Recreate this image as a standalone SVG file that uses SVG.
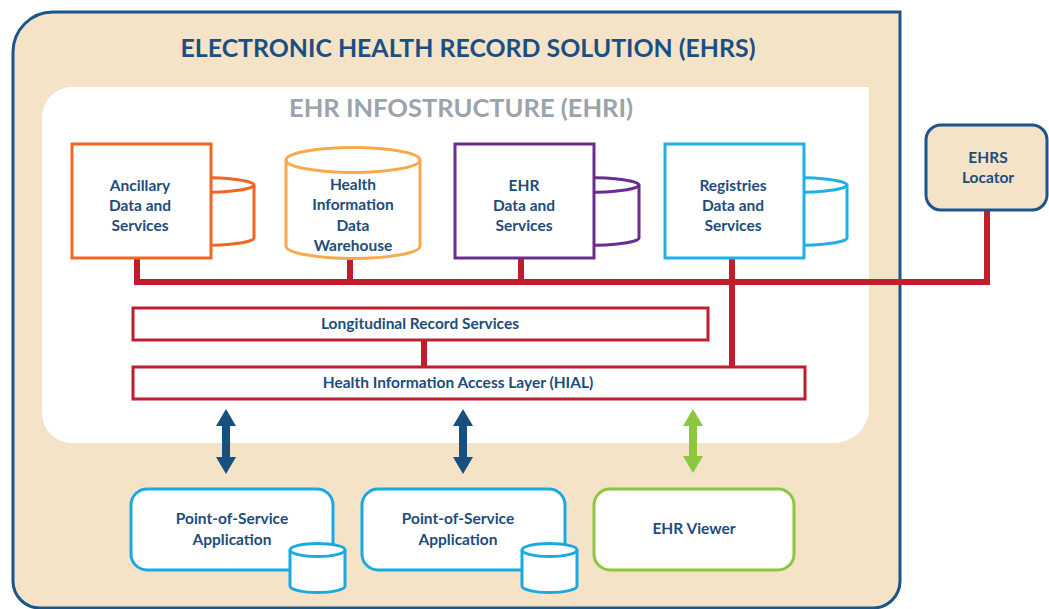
<svg xmlns="http://www.w3.org/2000/svg" width="1049" height="609" viewBox="0 0 1049 609">
<defs>
<style>
.t{font-family:Lato,"Open Sans","Liberation Sans",sans-serif;font-weight:bold;fill:#1d4d7d;text-anchor:middle;font-size:15.5px}
.bus{stroke:#be1e2d;stroke-width:6;fill:none}
.lay{fill:#fff;stroke:#be1e2d;stroke-width:3}
.cyl{fill:#fff;stroke-width:3}
</style>
</defs>
<rect width="1049" height="609" fill="#fff"/>
<g id="ehrs">
<path d="M53,12 H900 V581 A27,27 0 0 1 873,608 H40 A27,27 0 0 1 13,581 V52 A40,40 0 0 1 53,12 Z" fill="#f5e3c8" stroke="#1a568c" stroke-width="3"/>
<text x="468" y="57" class="t" style="font-size:25px;fill:#1b4f82" textLength="575" lengthAdjust="spacingAndGlyphs">ELECTRONIC HEALTH RECORD SOLUTION (EHRS)</text>
</g>
<g id="ehri">
<path d="M72,87 H869 V408 A35,35 0 0 1 834,443 H72 A30,30 0 0 1 42,413 V117 A30,30 0 0 1 72,87 Z" fill="#fff"/>
<text x="461" y="117" class="t" style="font-size:24px;fill:#9ba3ac" textLength="344" lengthAdjust="spacingAndGlyphs">EHR INFOSTRUCTURE (EHRI)</text>
</g>
<g id="connectors">
<path class="bus" d="M137,258 V282 H987 V210"/>
<path class="bus" d="M350,258 V282"/>
<path class="bus" d="M521,258 V282"/>
<path class="bus" d="M732,258 V367"/>
<path class="bus" d="M424,340 V367"/>
<polygon fill="#174f7f" points="226,409 236,426 230,426 230,457 236,457 226,474 216,457 222,457 222,426 216,426"/>
<polygon fill="#174f7f" points="463,409 473,426 467,426 467,457 473,457 463,474 453,457 459,457 459,426 453,426"/>
<polygon fill="#8dc63f" points="693,409 703,426 697,426 697,456 703,456 693,473 683,456 689,456 689,426 683,426"/>
</g>
<g id="ancillary">
<path class="cyl" stroke="#f26522" d="M146,185 A54,7.5 0 0 1 254,185 V238 A54,7.5 0 0 1 146,238 Z"/>
<path fill="none" stroke="#f26522" stroke-width="3" d="M146,185 A54,7.5 0 0 0 254,185"/>
<rect x="72" y="144" width="139" height="114" fill="#fff" stroke="#f26522" stroke-width="3"/>
<text class="t" x="140"><tspan x="140" y="191">Ancillary</tspan><tspan x="140" y="211">Data and</tspan><tspan x="140" y="231">Services</tspan></text>
</g>
<g id="warehouse">
<path class="cyl" stroke="#f9a94b" d="M286,160 A67,12.5 0 0 1 420,160 V246 A67,12.5 0 0 1 286,246 Z"/>
<path fill="none" stroke="#f9a94b" stroke-width="3" d="M286,160 A67,12.5 0 0 0 420,160"/>
<text class="t" x="353"><tspan x="353" y="190">Health</tspan><tspan x="353" y="210">Information</tspan><tspan x="353" y="231">Data</tspan><tspan x="353" y="251">Warehouse</tspan></text>
</g>
<g id="ehr">
<path class="cyl" stroke="#6b2c91" d="M531,185 A54,7.5 0 0 1 639,185 V238 A54,7.5 0 0 1 531,238 Z"/>
<path fill="none" stroke="#6b2c91" stroke-width="3" d="M531,185 A54,7.5 0 0 0 639,185"/>
<rect x="455" y="144" width="139" height="114" fill="#fff" stroke="#6b2c91" stroke-width="3"/>
<text class="t" x="524"><tspan x="524" y="191">EHR</tspan><tspan x="524" y="211">Data and</tspan><tspan x="524" y="231">Services</tspan></text>
</g>
<g id="registries">
<path class="cyl" stroke="#1fb1e6" d="M739,185 A54,7.5 0 0 1 847,185 V238 A54,7.5 0 0 1 739,238 Z"/>
<path fill="none" stroke="#1fb1e6" stroke-width="3" d="M739,185 A54,7.5 0 0 0 847,185"/>
<rect x="665" y="144" width="139" height="114" fill="#fff" stroke="#1fb1e6" stroke-width="3"/>
<text class="t" x="733"><tspan x="733" y="191">Registries</tspan><tspan x="733" y="211">Data and</tspan><tspan x="733" y="231">Services</tspan></text>
</g>
<g id="locator">
<rect x="926" y="125" width="121" height="85" rx="15" fill="#f5e3c8" stroke="#1a568c" stroke-width="3"/>
<text class="t" x="988"><tspan x="988" y="163">EHRS</tspan><tspan x="988" y="183">Locator</tspan></text>
</g>
<g id="lrs">
<rect class="lay" x="133" y="308" width="575" height="32"/>
<text class="t" x="420" y="329" style="font-size:15.5px">Longitudinal Record Services</text>
</g>
<g id="hial">
<rect class="lay" x="133" y="367" width="672" height="32"/>
<text class="t" x="458" y="388" style="font-size:15.5px">Health Information Access Layer (HIAL)</text>
</g>
<g id="pos1">
<rect x="131" y="489" width="202" height="81" rx="16" fill="#fff" stroke="#1ba9e1" stroke-width="3"/>
<text class="t" x="232"><tspan x="232" y="524">Point-of-Service</tspan><tspan x="232" y="545">Application</tspan></text>
<path class="cyl" stroke="#1ba9e1" d="M290,550 A27.5,6.5 0 0 1 345,550 V586 A27.5,6.5 0 0 1 290,586 Z"/>
<path fill="none" stroke="#1ba9e1" stroke-width="3" d="M290,550 A27.5,6.5 0 0 0 345,550"/>
</g>
<g id="pos2">
<rect x="362" y="489" width="203" height="81" rx="16" fill="#fff" stroke="#1ba9e1" stroke-width="3"/>
<text class="t" x="458"><tspan x="458" y="524">Point-of-Service</tspan><tspan x="458" y="545">Application</tspan></text>
<path class="cyl" stroke="#1ba9e1" d="M522,550 A27.5,6.5 0 0 1 577,550 V586 A27.5,6.5 0 0 1 522,586 Z"/>
<path fill="none" stroke="#1ba9e1" stroke-width="3" d="M522,550 A27.5,6.5 0 0 0 577,550"/>
</g>
<g id="viewer">
<rect x="594" y="489" width="200" height="81" rx="16" fill="#fff" stroke="#8dc63f" stroke-width="3"/>
<text class="t" x="694" y="534">EHR Viewer</text>
</g>
</svg>
